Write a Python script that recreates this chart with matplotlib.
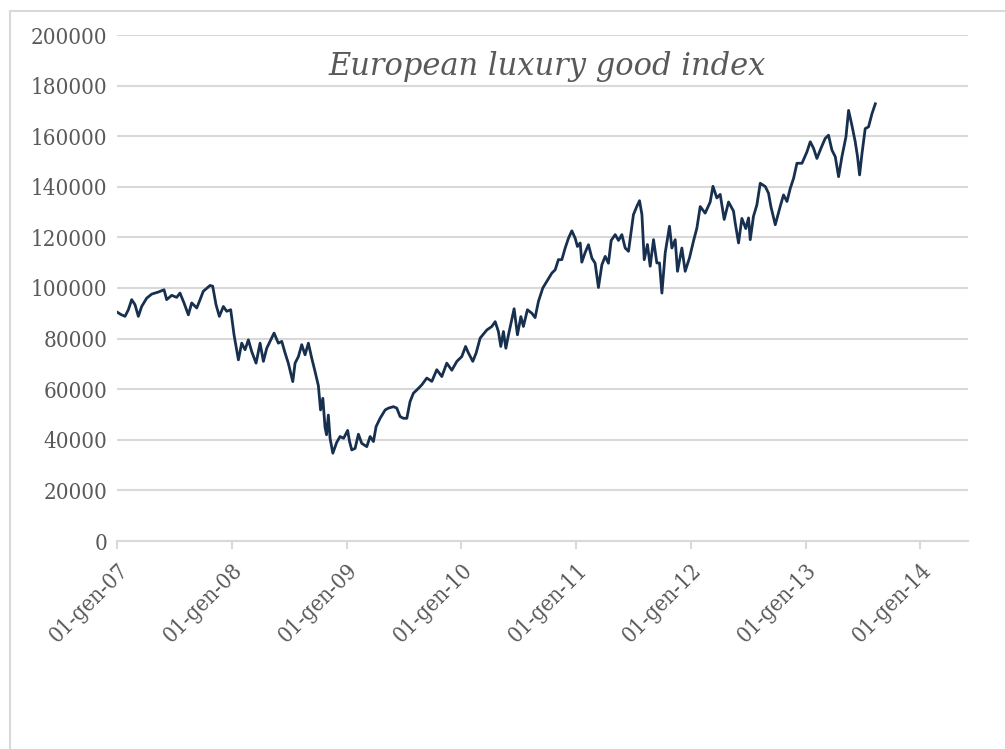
import numpy as np
import pandas as pd
import matplotlib.pyplot as plt
import matplotlib.dates as mdates
from matplotlib.lines import Line2D

# years elapsed since 01-gen-07, and index level
years_since_2007 = [
    0.000, 0.035, 0.070, 0.099, 0.128, 0.157, 0.186, 0.215, 0.259, 0.303,
    0.360, 0.410, 0.433, 0.477, 0.520, 0.549, 0.584, 0.622, 0.651, 0.695,
    0.718, 0.752, 0.811, 0.834, 0.863, 0.892, 0.927, 0.956, 0.991, 1.020,
    1.058, 1.087, 1.116, 1.145, 1.174, 1.212, 1.247, 1.276, 1.305, 1.340,
    1.369, 1.406, 1.436, 1.465, 1.493, 1.532, 1.552, 1.581, 1.610, 1.639,
    1.668, 1.697, 1.726, 1.755, 1.774, 1.794, 1.813, 1.826, 1.842, 1.857,
    1.881, 1.915, 1.944, 1.975, 2.010, 2.027, 2.046, 2.075, 2.104, 2.133,
    2.177, 2.206, 2.235, 2.258, 2.293, 2.337, 2.365, 2.409, 2.439, 2.467,
    2.496, 2.526, 2.554, 2.583, 2.613, 2.656, 2.700, 2.744, 2.787, 2.831,
    2.874, 2.918, 2.962, 3.005, 3.038, 3.063, 3.101, 3.130, 3.165, 3.223,
    3.267, 3.296, 3.324, 3.345, 3.368, 3.389, 3.412, 3.441, 3.461, 3.490,
    3.520, 3.542, 3.577, 3.616, 3.644, 3.673, 3.711, 3.746, 3.790, 3.819,
    3.847, 3.877, 3.906, 3.935, 3.964, 3.993, 4.013, 4.037, 4.051, 4.080,
    4.109, 4.139, 4.167, 4.196, 4.226, 4.255, 4.283, 4.307, 4.342, 4.371,
    4.400, 4.429, 4.458, 4.483, 4.501, 4.531, 4.554, 4.575, 4.595, 4.623,
    4.647, 4.676, 4.705, 4.728, 4.749, 4.778, 4.815, 4.836, 4.865, 4.885,
    4.923, 4.952, 4.990, 5.024, 5.054, 5.083, 5.126, 5.170, 5.194, 5.228,
    5.257, 5.292, 5.330, 5.373, 5.388, 5.417, 5.446, 5.480, 5.504, 5.519,
    5.547, 5.577, 5.606, 5.650, 5.678, 5.699, 5.737, 5.780, 5.809, 5.839,
    5.868, 5.897, 5.926, 5.970, 6.013, 6.042, 6.071, 6.100, 6.135, 6.172,
    6.201, 6.231, 6.260, 6.289, 6.318, 6.353, 6.376, 6.405, 6.434, 6.454,
    6.472, 6.493, 6.521, 6.550, 6.580, 6.609,
]
index_level = [
    90500, 89500, 88800, 91400, 95400, 93400, 88800, 92700, 96000, 97600,
    98400, 99300, 95400, 97100, 96300, 98000, 94100, 89400, 94100, 92100,
    94700, 98700, 101000, 100700, 93400, 88800, 92700, 90800, 91400, 81500,
    71600, 78200, 75600, 79500, 74900, 70300, 78200, 71000, 76200, 79500,
    82200, 78200, 78900, 74300, 70300, 63000, 70300, 72900, 77600, 73600,
    78200, 72300, 67000, 61400, 51800, 56400, 45000, 42000, 49800, 40600,
    34700, 39000, 41300, 40600, 43700, 39300, 36000, 36600, 42200, 38600,
    37300, 41300, 39300, 45200, 48500, 51800, 52500, 53100, 52500, 49200,
    48500, 48500, 55100, 58400, 59700, 61700, 64400, 63100, 67700, 65000,
    70300, 67500, 71000, 72900, 76900, 74300, 71000, 74300, 80200, 83400,
    84800, 86700, 82800, 76900, 82800, 76200, 81500, 87500, 91800, 81500,
    88700, 84800, 91400, 90000, 88300, 94700, 100000, 102600, 105900, 107200,
    111200, 111200, 115800, 119700, 122600, 119700, 116400, 117800, 110200, 114000,
    117100, 111800, 109800, 100200, 109200, 112500, 109800, 118800, 121100, 118800,
    121100, 115800, 114500, 123000, 129000, 132300, 134500, 129000, 111200, 117200,
    108600, 119100, 109900, 109900, 98000, 113900, 124400, 115800, 119100, 106600,
    115800, 106600, 112000, 118500, 123700, 132200, 129600, 134000, 140200, 135600,
    137000, 127100, 134000, 130400, 125700, 117800, 127500, 123500, 127700, 119100,
    128300, 132900, 141400, 140100, 137500, 132200, 125000, 132200, 136800, 134200,
    139400, 143400, 149300, 149300, 153800, 157800, 155200, 151200, 155200, 159100,
    160400, 154500, 151900, 144000, 151900, 159700, 170200, 164300, 157800, 151900,
    144700, 153200, 163000, 163700, 168900, 172800,
]
y_ticks = [0, 20000, 40000, 60000, 80000, 100000, 120000, 140000, 160000, 180000, 200000]
x_ticks = ['2007-01-01', '2008-01-01', '2009-01-01', '2010-01-01',
           '2011-01-01', '2012-01-01', '2013-01-01', '2014-01-01']
x_tick_labels = ['01-gen-07', '01-gen-08', '01-gen-09', '01-gen-10',
                 '01-gen-11', '01-gen-12', '01-gen-13', '01-gen-14']
title = 'European luxury good index'

dates = pd.Timestamp('2007-01-01') + pd.to_timedelta(np.array(years_since_2007) * 365.25, unit='D')

grey_txt = '#595959'
grey_line = '#d9d9d9'

fig = plt.figure(figsize=(10.05, 7.49), dpi=100)
ax = fig.add_axes([117 / 1005, 1 - 541 / 749, (968 - 117) / 1005, (541 - 35) / 749])

ax.plot(dates, index_level, color='#17304f', lw=2.0, solid_joinstyle='round')

ax.set_ylim(0, 200000)
ax.set_yticks(y_ticks)
ax.set_yticklabels([str(v) for v in y_ticks])
ax.set_xlim(pd.Timestamp('2007-01-01'), pd.Timestamp('2014-06-02'))
ax.set_xticks(pd.to_datetime(x_ticks))
ax.set_xticklabels(x_tick_labels, rotation=45, ha='right', rotation_mode='anchor')

ax.grid(axis='y', color=grey_line, lw=1.5)
ax.set_axisbelow(True)
for side in ['top', 'right', 'left']:
    ax.spines[side].set_visible(False)
ax.spines['bottom'].set_color(grey_line)
ax.spines['bottom'].set_linewidth(1.5)
ax.tick_params(axis='y', length=0, pad=7, labelsize=16, labelcolor=grey_txt)
ax.tick_params(axis='x', length=6, width=1.5, color=grey_line, pad=7, labelsize=16, labelcolor=grey_txt)
for lab in ax.get_xticklabels() + ax.get_yticklabels():
    lab.set_family('DejaVu Serif')
    lab.set_fontstretch('condensed')

ax.text(0.506, 0.937, title, transform=ax.transAxes, ha='center', va='center',
        fontsize=22, style='italic', color=grey_txt, family='DejaVu Serif')

# chart area border (top and left edges visible in the crop)
fig.add_artist(Line2D([10 / 1005, 1], [1 - 11 / 749, 1 - 11 / 749], color=grey_line, lw=1.5))
fig.add_artist(Line2D([10 / 1005, 10 / 1005], [0, 1 - 11 / 749], color=grey_line, lw=1.5))

fig.savefig('out.png', dpi=100)
